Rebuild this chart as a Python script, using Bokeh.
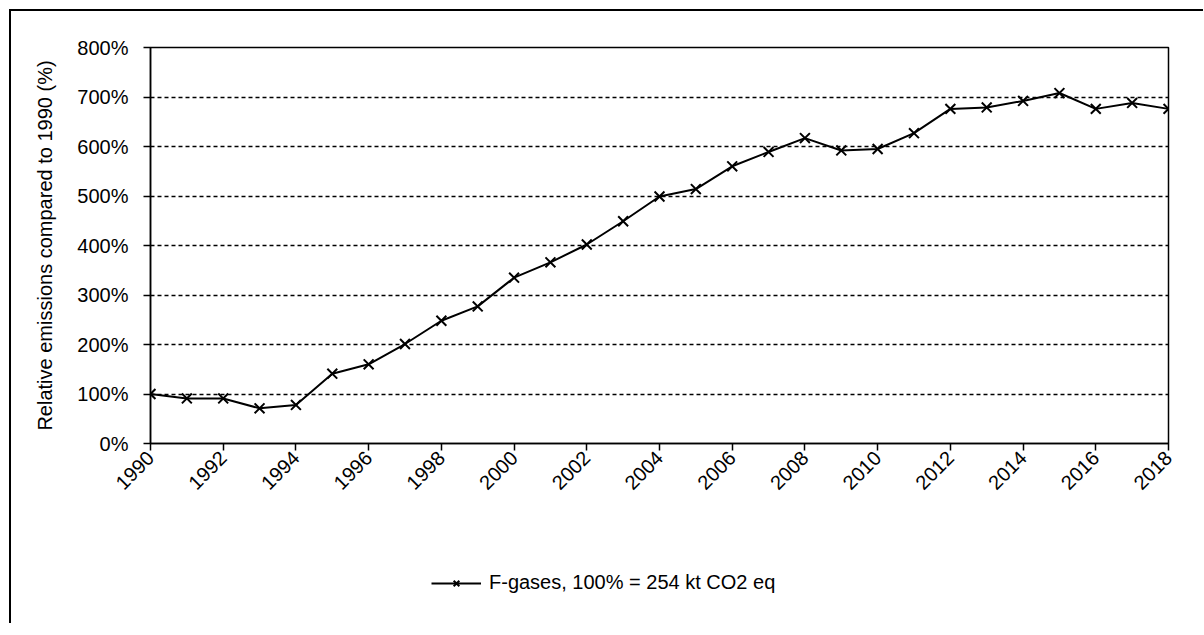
import math
from bokeh.plotting import figure
from bokeh.layouts import column
from bokeh.models import (Range1d, FixedTicker, PrintfTickFormatter, Legend,
                          LegendItem)
from bokeh.embed import file_html
from bokeh.resources import INLINE

years = list(range(1990, 2019))
relative_pct = [100, 91, 91, 71, 78, 141, 160, 201, 248, 277, 335,
                366, 402, 449, 499, 514, 560, 589, 617, 592, 595,
                627, 676, 679, 692, 708, 676, 688, 676]
x_ticks = list(range(1990, 2019, 2))
y_ticks = list(range(0, 801, 100))
series_label = "F-gases, 100% = 254 kt CO2 eq"
y_title = "Relative emissions compared to 1990 (%)"

FONT = "Liberation Sans"

p = figure(output_backend="svg", toolbar_location=None,
           x_range=Range1d(1990, 2018), y_range=Range1d(0, 800),
           frame_width=1018, frame_height=396,
           min_border_left=139, min_border_top=36, min_border_right=35,
           min_border_bottom=80)

p.outline_line_color = "black"
p.outline_line_width = 1.5
p.background_fill_color = "white"

p.xgrid.grid_line_color = None
p.ygrid.grid_line_color = "black"
p.ygrid.grid_line_dash = "4 3"
p.ygrid.grid_line_width = 1.4
p.ygrid.ticker = FixedTicker(ticks=y_ticks[1:-1])

for ax in (p.xaxis[0], p.yaxis[0]):
    ax.axis_line_color = "black"
    ax.axis_line_width = 1.5
    ax.major_tick_line_color = "black"
    ax.major_tick_line_width = 1.5
    ax.major_tick_in = 0
    ax.major_tick_out = 7
    ax.minor_tick_line_color = None
    ax.major_label_text_font = FONT
    ax.major_label_text_font_size = "20px"
    ax.major_label_text_color = "black"

p.xaxis.ticker = FixedTicker(ticks=x_ticks)
p.xaxis.major_label_orientation = math.pi / 4
p.xaxis.major_label_standoff = 4

p.yaxis.ticker = FixedTicker(ticks=y_ticks)
p.yaxis.formatter = PrintfTickFormatter(format="%d%%")
p.yaxis.major_label_standoff = 15
p.yaxis.axis_label = y_title
p.yaxis.axis_label_text_font = FONT
p.yaxis.axis_label_text_font_size = "20px"
p.yaxis.axis_label_text_font_style = "normal"
p.yaxis.axis_label_text_color = "black"
p.yaxis.axis_label_standoff = 18

p.line(years, relative_pct, line_color="black", line_width=2)
p.scatter(years, relative_pct, marker="x", size=14, line_color="black",
          line_width=2)

# legend strip below the chart (series drawn outside its visible ranges,
# so only the legend entry shows)
p2 = figure(width=1192, height=100, output_backend="svg", toolbar_location=None,
            x_range=Range1d(0, 1), y_range=Range1d(0, 1),
            x_axis_location=None, y_axis_location=None, min_border=0)
p2.grid.visible = False
p2.outline_line_color = None
lg_line = p2.line(years, relative_pct, line_color="black", line_width=2)
lg_mark = p2.scatter(years, relative_pct, marker="x", size=14,
                     line_color="black", line_width=2)
legend = Legend(items=[LegendItem(label=series_label,
                                  renderers=[lg_line, lg_mark], index=0)],
                orientation="horizontal", location=(281, 29),
                border_line_color=None, background_fill_alpha=0,
                label_text_font=FONT, label_text_font_size="20px",
                label_text_color="black", glyph_width=50, glyph_height=20,
                margin=0, padding=0, label_standoff=8)
p2.add_layout(legend, "center")

layout = column(p, p2, spacing=0)
layout.styles = {"border-top": "2px solid black",
                 "border-left": "2px solid black",
                 "margin-left": "9px", "margin-top": "9px"}

open("out.html", "w").write(file_html(layout, INLINE))
